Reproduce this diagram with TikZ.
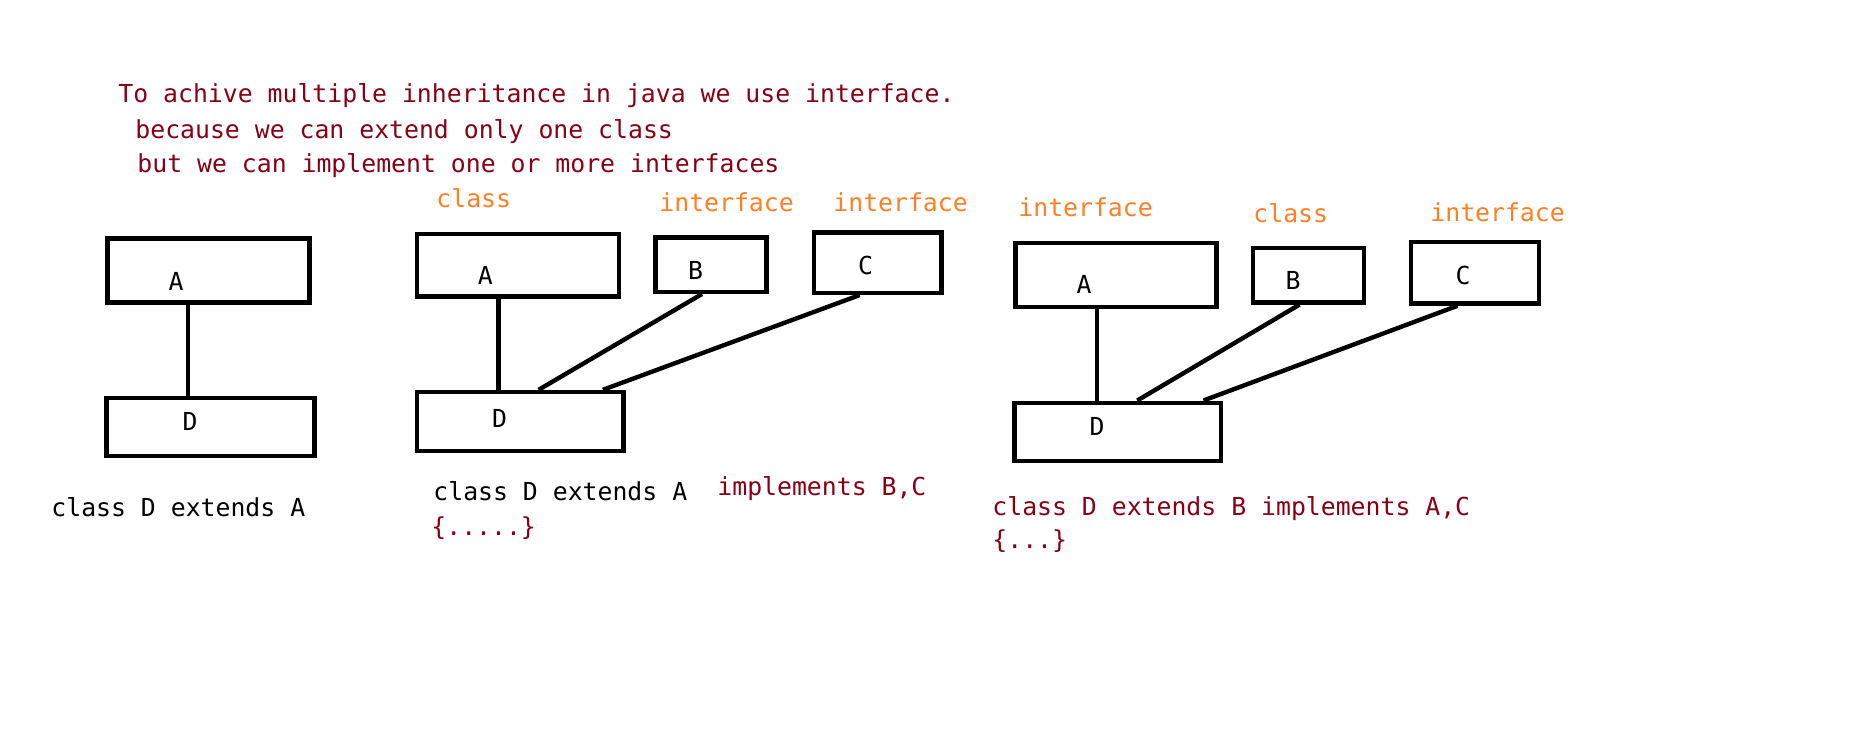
\documentclass[tikz,border=0pt]{standalone}
\usepackage{fontspec}
\usepackage{xcolor}
\newfontfamily\javafont{DejaVu Sans Mono}
\newcommand{\jv}{\javafont\fontsize{12.4pt}{15pt}\selectfont}
\definecolor{notered}{RGB}{136,0,21}
\definecolor{kindorange}{RGB}{255,127,39}

\begin{document}
\begin{tikzpicture}[
    x=0.5pt,y=-0.5pt,
    box/.style={rectangle,draw=black,line width=2.2pt,inner sep=0pt},
    letter/.style={font=\jv,inner sep=0pt},
    kind/.style={font=\jv,text=kindorange,anchor=base west,inner sep=0pt},
    note/.style={font=\jv,text=notered,anchor=base west,inner sep=0pt},
    decl/.style={font=\jv,text=black,anchor=base west,inner sep=0pt},
    link/.style={line width=2.2pt}
  ]
  \useasboundingbox (0,0) rectangle (1852,743);

  \node[note] (why1) at (118,103) {To achive multiple inheritance in java we use interface.};
  \node[note] (why2) at (135,139) {because we can extend only one class};
  \node[note] (why3) at (137,173) {but we can implement one or more interfaces};

  % single inheritance
  \node[box,minimum width=101pt,minimum height=32pt] (a1) at (208.5,270.5) {};
  \node[box,minimum width=104pt,minimum height=29pt] (d1) at (210.3,427) {};
  \node[letter] (a1l) at (176,281) {A};
  \node[letter] (d1l) at (190,421.6) {D};
  \node[decl] (decl1) at (51,516) {class D extends A};

  % extends A, implements B and C
  \node[kind] (k2a) at (436,208) {class};
  \node[kind] (k2b) at (659,212) {interface};
  \node[kind] (k2c) at (833,212) {interface};
  \node[box,minimum width=100.9pt,minimum height=31.3pt] (a2) at (517.9,265.1) {};
  \node[box,minimum width=55.5pt,minimum height=27.2pt] (b2) at (711,264.6) {};
  \node[box,minimum width=63.8pt,minimum height=30.1pt] (c2) at (877.5,262.8) {};
  \node[box,minimum width=103.3pt,minimum height=29.5pt] (d2) at (520.3,421.5) {};
  \node[letter] (a2l) at (485.4,275.2) {A};
  \node[letter] (b2l) at (695.6,270.4) {B};
  \node[letter] (c2l) at (865.7,265.7) {C};
  \node[letter] (d2l) at (499.6,418) {D};
  \node[decl] (decl2) at (433,500) {class D extends A};
  \node[note] (impl2) at (717,495) {implements B,C};
  \node[note] (body2) at (431,535) {\{.....\}};

  % extends B, implements A and C
  \node[kind] (k3a) at (1018,217) {interface};
  \node[kind] (k3b) at (1253,223) {class};
  \node[kind] (k3c) at (1430,222) {interface};
  \node[box,minimum width=100.4pt,minimum height=31.9pt] (a3) at (1116,275.2) {};
  \node[box,minimum width=55.5pt,minimum height=27.2pt] (b3) at (1308.5,275.2) {};
  \node[box,minimum width=64pt,minimum height=30.8pt] (c3) at (1475,272.8) {};
  \node[box,minimum width=103.3pt,minimum height=29pt] (d3) at (1117.8,431.7) {};
  \node[letter] (a3l) at (1084,284.6) {A};
  \node[letter] (b3l) at (1293,280) {B};
  \node[letter] (c3l) at (1463,275) {C};
  \node[letter] (d3l) at (1097,426.3) {D};
  \node[note] (decl3) at (992,515) {class D extends B implements A,C};
  \node[note] (body3) at (992,548) {\{...\}};

  % links
  \draw[link] (a1.239) -- (a1.239 |- d1.north);
  \draw[link] (a2.240) -- (a2.240 |- d2.north);
  \draw[link] (b2.253) -- (d2.60);
  \draw[link] (c2.241) -- (d2.21);
  \draw[link] (a3.241) -- (a3.241 |- d3.north);
  \draw[link] (b3.253) -- (d3.58);
  \draw[link] (c3.242) -- (d3.20);
\end{tikzpicture}
\end{document}
